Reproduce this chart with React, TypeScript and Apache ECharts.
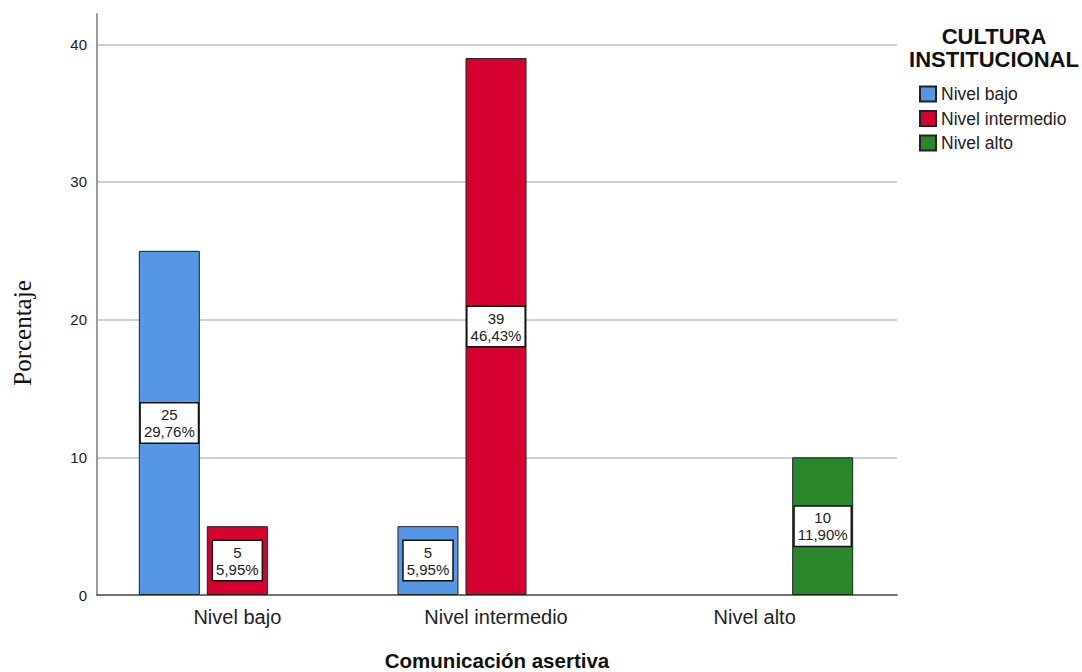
import React, { useEffect, useRef } from "react";
import * as echarts from "echarts";

const categories = ["Nivel bajo", "Nivel intermedio", "Nivel alto"];
const seriesNames = ["Nivel bajo", "Nivel intermedio", "Nivel alto"];
const bajoValues = [25, 5, null];
const intermedioValues = [5, 39, null];
const altoValues = [null, null, 10];
const bajoPct = ["29,76%", "5,95%", ""];
const intermedioPct = ["5,95%", "46,43%", ""];
const altoPct = ["", "", "11,90%"];
const colors = ["#5596e5", "#d6002f", "#2a862b"];
const yTicks = [0, 10, 20, 30, 40];

const FONT = "'Liberation Sans', Arial, sans-serif";

export default function App() {
  const ref = useRef<HTMLDivElement>(null);
  useEffect(() => {
    if (!ref.current) return;
    const chart = echarts.init(ref.current, undefined, { renderer: "svg" });
    const values = [bajoValues, intermedioValues, altoValues];
    const pcts = [bajoPct, intermedioPct, altoPct];
    const yMax = 42.2;
    chart.setOption({
      animation: false,
      backgroundColor: "#ffffff",
      textStyle: { fontFamily: FONT },
      grid: [
        { left: 97, top: 14, width: 800, height: 581 },
        { left: 108, top: 14, width: 776, height: 581 },
      ],
      xAxis: [
        {
          gridIndex: 0,
          type: "value",
          min: 0,
          max: 1,
          axisLine: { show: true, onZero: false, lineStyle: { color: "#444", width: 1.5 } },
          axisTick: { show: false },
          axisLabel: { show: false },
          splitLine: { show: false },
        },
        {
          gridIndex: 1,
          type: "category",
          data: categories,
          axisLine: { show: false },
          axisTick: { show: false },
          axisLabel: { fontSize: 20, color: "#222", margin: 12, fontFamily: FONT },
        },
      ],
      yAxis: [
        {
          gridIndex: 0,
          type: "value",
          min: 0,
          max: yMax,
          interval: 10,
          axisLine: { show: true, lineStyle: { color: "#9a9a9a", width: 2 } },
          axisTick: { show: false },
          axisLabel: {
            fontSize: 15,
            color: "#222",
            margin: 10,
            showMaxLabel: false,
            formatter: (v: number) => (yTicks.includes(v) ? String(v) : ""),
          },
          splitLine: {
            show: true,
            showMaxLine: false,
            showMinLine: false,
            lineStyle: { color: "#d0d0d0", width: 2 },
          },
        },
        {
          gridIndex: 1,
          type: "value",
          min: 0,
          max: yMax,
          show: false,
          splitLine: { show: false },
        },
      ],
      legend: {
        orient: "vertical",
        left: 919,
        top: 85,
        padding: 0,
        itemWidth: 16,
        itemHeight: 15,
        itemGap: 6.5,
        icon: "rect",
        textStyle: { fontSize: 17.5, color: "#222", fontFamily: FONT },
        data: seriesNames,
      },
      series: seriesNames.map((name, si) => ({
        name,
        type: "bar",
        xAxisIndex: 1,
        yAxisIndex: 1,
        barWidth: 61,
        barGap: "11.5%",
        data: values[si],
        itemStyle: { color: colors[si], borderColor: "#222", borderWidth: 1 },
        label: {
          show: true,
          position: "inside",
          formatter: (p: any) => `${p.value}\n${pcts[si][p.dataIndex]}`,
          fontSize: 15,
          lineHeight: 17,
          color: "#222",
          fontFamily: FONT,
          backgroundColor: "#ffffff",
          borderColor: "#111",
          borderWidth: 1.5,
          padding: [3, 3, 2, 3],
          align: "center",
        },
      })),
      graphic: [
        {
          type: "text",
          x: 994,
          y: 25,
          style: {
            text: "CULTURA\nINSTITUCIONAL",
            fontSize: 22,
            fontWeight: "bold",
            lineHeight: 23,
            align: "center",
            verticalAlign: "top",
            fill: "#111",
            fontFamily: FONT,
          },
        },
        {
          type: "text",
          x: 22,
          y: 333,
          rotation: Math.PI / 2,
          style: {
            text: "Porcentaje",
            fontSize: 25,
            fill: "#111",
            fontFamily: "'Liberation Serif', 'Times New Roman', serif",
            align: "center",
            verticalAlign: "middle",
          },
        },
        {
          type: "text",
          x: 497,
          y: 660,
          style: {
            text: "Comunicación asertiva",
            fontSize: 20.5,
            fontWeight: "bold",
            fill: "#111",
            fontFamily: FONT,
            align: "center",
            verticalAlign: "middle",
          },
        },
      ],
    });
    return () => chart.dispose();
  }, []);
  return <div ref={ref} style={{ width: 1082, height: 672, position: "absolute", left: 0, top: 0 }} />;
}
